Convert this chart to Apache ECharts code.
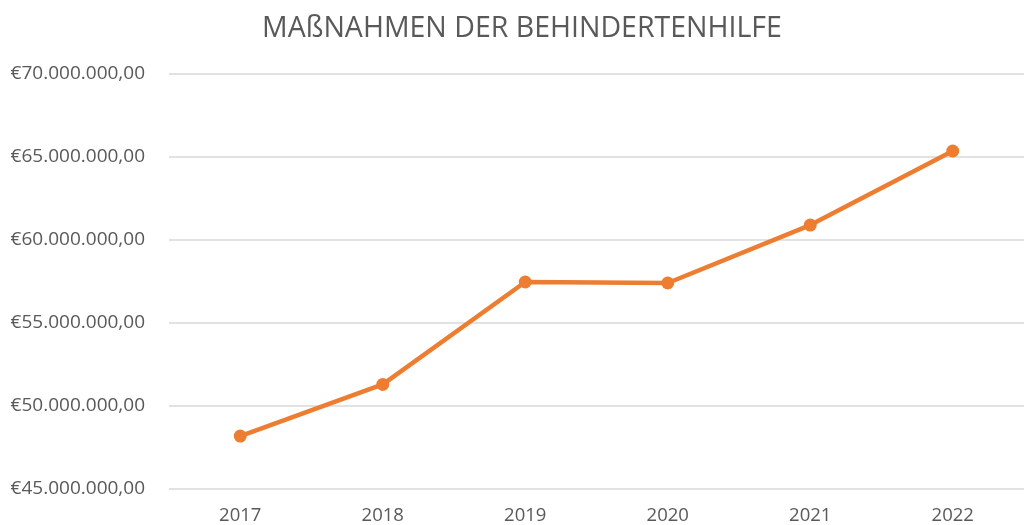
<!DOCTYPE html>
<html>
<head>
<meta charset="utf-8">
<script src="https://cdn.jsdelivr.net/npm/echarts@6/dist/echarts.min.js"></script>
<style>
  html, body { margin: 0; padding: 0; background: #fff; }
  #chart { width: 1024px; height: 525px; }
</style>
</head>
<body>
<div id="chart"></div>
<script>
// Jahre und Ausgaben (Euro)
const years = ['2017', '2018', '2019', '2020', '2021', '2022']
const spending = [48190000, 51300000, 57470000, 57410000, 60900000, 65360000]

const fmtEuro = v => '€' + v.toLocaleString('de-DE', { minimumFractionDigits: 2, maximumFractionDigits: 2 })

const chart = echarts.init(document.getElementById('chart'))
chart.setOption({
  animation: false,
  textStyle: { fontFamily: 'Open Sans' },
  title: {
    text: 'MAßNAHMEN DER BEHINDERTENHILFE',
    left: 257,
    top: 9,
    textStyle: { fontSize: 28.5, fontWeight: 'normal', color: '#595959' }
  },
  grid: { left: 169, right: 0, top: 74, bottom: 36 },
  xAxis: {
    type: 'category',
    data: years,
    boundaryGap: true,
    axisLine: { show: false },
    axisTick: { show: false },
    axisLabel: { color: '#595959', fontSize: 18.5, margin: 17 }
  },
  yAxis: {
    type: 'value',
    min: 45000000,
    max: 70000000,
    interval: 5000000,
    axisLabel: { color: '#595959', fontSize: 19, margin: 24, formatter: fmtEuro },
    splitLine: { lineStyle: { color: '#d9d9d9', width: 1.5 } }
  },
  series: [{
    type: 'line',
    data: spending,
    symbol: 'circle',
    symbolSize: 13,
    lineStyle: { color: '#ED7D31', width: 4.5 },
    itemStyle: { color: '#ED7D31' }
  }]
})
</script>
</body>
</html>
